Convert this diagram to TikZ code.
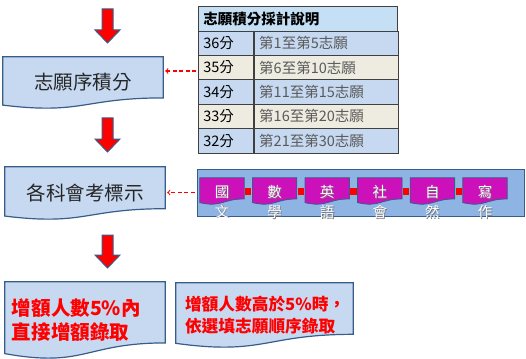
\documentclass[tikz,border=0pt]{standalone}
\usepackage{fontspec}
\setmainfont{Noto Sans CJK TC}
\usepackage{xcolor}
\usepackage{tikz}
\usetikzlibrary{calc, backgrounds}
\definecolor{boxblue}{RGB}{198,217,241}
\definecolor{lineblue}{RGB}{56,93,138}
\definecolor{stripblue}{RGB}{142,180,227}
\definecolor{chipmag}{RGB}{204,17,187}
\definecolor{tabhead}{RGB}{197,224,245}
\definecolor{tabblue}{RGB}{198,217,241}
\definecolor{tabbeige}{RGB}{238,236,225}
\definecolor{tabgray}{RGB}{89,89,89}

\tikzset{
  docbox/.style={fill=boxblue, draw=lineblue, line width=1.2pt},
  docshade/.style={fill=black!30},
  chipbox/.style={fill=chipmag, draw=lineblue, line width=0.8pt},
  chipshade/.style={fill=black!60},
  boxlabel/.style={inner sep=0pt, text=black!85, font=\fontsize{19.5}{23}\selectfont},
  redlabel/.style={inner sep=0pt, align=left, text=red},
  chip/.style={minimum width=44pt, minimum height=26pt, inner sep=0pt},
  chiptext/.style={inner sep=0pt, align=center, text=white, font=\fontsize{14.5}{20}\selectfont},
  chipshadow/.style={chiptext, text=black!55},
  chiplink/.style={red, line width=7pt, shorten <=1pt, shorten >=1pt},
  blockarr/.style={fill=red, draw=lineblue, line width=1pt},
  dasharr/.style={->, red, line width=1.1pt, dash pattern=on 4pt off 2.5pt, shorten <=2pt, shorten >=2pt},
  tabcell/.style={draw=black!75, line width=0.8pt, minimum height=24.4pt, inner xsep=5pt, inner ysep=0pt,
                  anchor=west, font=\fontsize{14.5}{16}\selectfont}
}

% flowchart document shape round a node: node, style, offset
\newcommand{\docshape}[3]{%
  \path[#2, shift={(#3,-#3)}] let \p1=(#1.north west), \p2=(#1.south east),
    \n1={\x2-\x1}, \n2={\y1-\y2} in
    (\x1,\y1) -- (\x2,\y1) -- (\x2,{\y1-0.8*\n2})
    .. controls ({\x1+0.5*\n1},{\y1-0.8*\n2}) and ({\x1+0.5*\n1},{\y1-1.13*\n2}) ..
    (\x1,{\y1-0.94*\n2}) -- cycle;}

% red block arrow pointing down: x, top, tip
\newcommand{\blockdown}[3]{%
  \draw[blockarr] ({#1-5.5},#2) -- ({#1+5.5},#2) -- ({#1+5.5},{#3-13}) -- ({#1+12.5},{#3-13})
    -- (#1,#3) -- ({#1-12.5},{#3-13}) -- ({#1-5.5},{#3-13}) -- cycle;}

\begin{document}
\begin{tikzpicture}[x=1pt, y=-1pt]
    \useasboundingbox (0,0) rectangle (526,358);

    % Flow boxes
    \node[boxlabel, minimum width=160pt, minimum height=51pt] (score) at (83,82.5) {志願序積分};
    \node[boxlabel, minimum width=160pt, minimum height=52pt] (exam) at (85,193) {各科會考標示};
    \node[redlabel, minimum width=160pt, minimum height=76pt, text width=146pt,
          font=\bfseries\fontsize{19.5}{24}\selectfont] (direct) at (85,320) {增額人數5\%內\\直接增額錄取};
    \node[redlabel, minimum width=177pt, minimum height=64pt, text width=159pt,
          font=\bfseries\fontsize{16.7}{22}\selectfont] (order) at (264.5,315) {增額人數高於5\%時，\\依選填志願順序錄取};

    \begin{scope}[on background layer]
        \foreach \b in {score, exam, direct, order} {
            \docshape{\b}{docshade}{3pt}
            \docshape{\b}{docbox}{0pt}
        }
    \end{scope}

    % Block arrows
    \blockdown{107.5}{9}{43}
    \blockdown{107.5}{118}{152}
    \blockdown{107.5}{235}{268}

    % Tabella punteggi
    \node[tabcell, fill=tabhead, text width=189pt, font=\bfseries\fontsize{14.5}{16}\selectfont] (head) at (198,19) {志願積分採計說明};
    \foreach \sc/\w/\f [count=\i] in {36/第1至第5志願/tabblue, 35/第6至第10志願/tabbeige,
            34/第11至第15志願/tabblue, 33/第16至第20志願/tabbeige, 32/第21至第30志願/tabblue} {
        \node[tabcell, fill=\f, text width=45pt] (n\sc) at (198,{18.8+24.4*\i}) {{\sc}分};
        \node[tabcell, fill=\f, text width=134pt, text=tabgray] (w\sc) at (n\sc.east) {\w};
    }
    \draw[dasharr] ([yshift=-3.4pt]n35.west) -- ([yshift=-3.4pt]n35.west -| score.east);

    % Subjects strip
    \node[draw=lineblue, fill=stripblue, line width=1pt, minimum width=327pt, minimum height=47pt, inner sep=0pt] (strip) at (360.5,192.5) {};
    \foreach \a/\b [count=\i] in {國/文, 數/學, 英/語, 社/會, 自/然, 寫/作} {
        \node[chip] (c\i) at ({169.4+52.6*\i},191) {};
        \docshape{c\i}{chipshade}{3pt}
        \docshape{c\i}{chipbox}{0pt}
        \node[chipshadow] (s\i) at ([shift={(0.8pt,-11.8pt)}]c\i.center) {{\a}\\{\b}};
        \node[chiptext] (t\i) at ([yshift=-11pt]c\i.center) {{\a}\\{\b}};
    }
    \foreach \i/\j in {1/2, 2/3, 3/4, 4/5, 5/6}
        \draw[chiplink] (c\i.east) -- (c\j.west);
    \draw[dasharr] (strip.west) -- (strip.west -| exam.east);
\end{tikzpicture}
\end{document}
